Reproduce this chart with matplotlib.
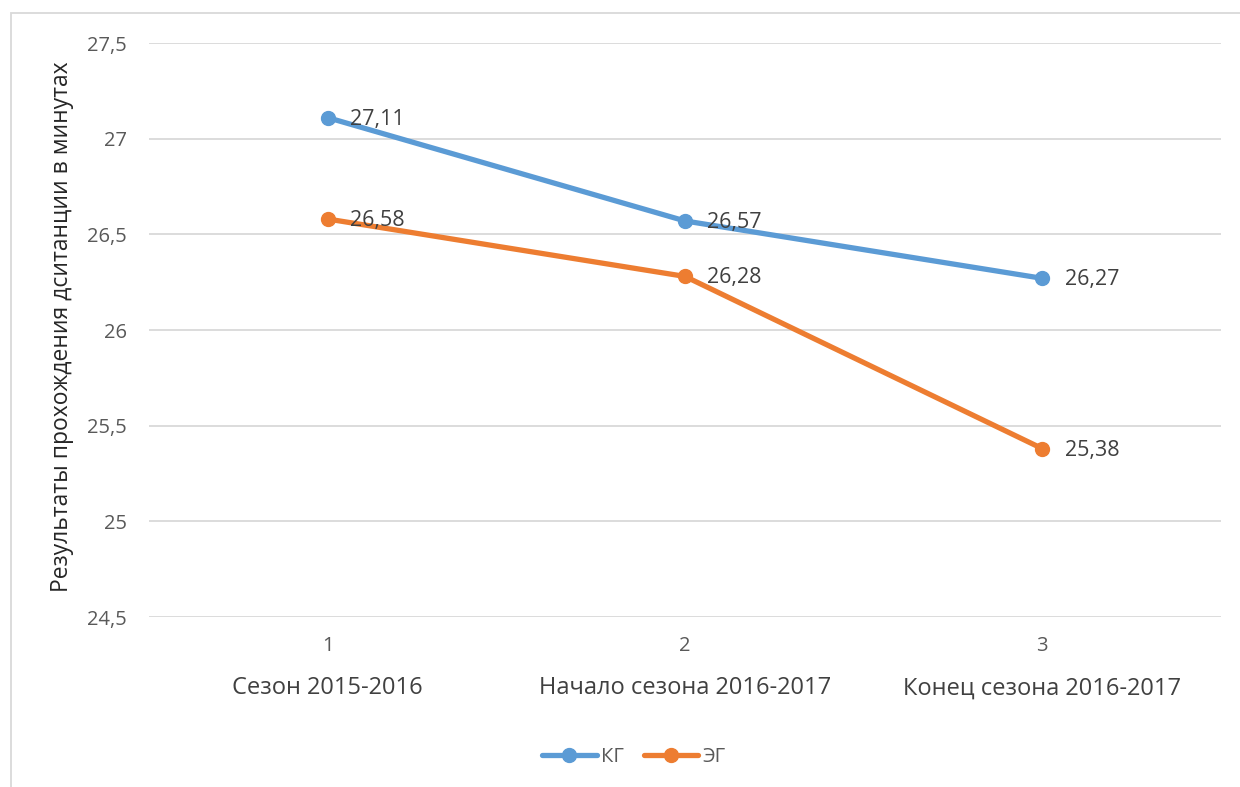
import matplotlib
matplotlib.use('Agg')
import matplotlib.pyplot as plt
from matplotlib.patches import Rectangle

# данные
x_vals = [1, 2, 3]
categories = ['Сезон 2015-2016', 'Начало сезона 2016-2017', 'Конец сезона 2016-2017']
kg = [27.11, 26.57, 26.27]
eg = [26.58, 26.28, 25.38]
y_ticks = [24.5, 25, 25.5, 26, 26.5, 27, 27.5]

blue = '#5B9BD5'
orange = '#ED7D31'
text_col = '#595959'

plt.rcParams['font.family'] = ['Open Sans', 'DejaVu Sans']

fig = plt.figure(figsize=(12.4, 7.87), dpi=100)
ax = fig.add_axes([149 / 1240, 1 - 617 / 787, (1221 - 149) / 1240, (617 - 43) / 787])

# рамка диаграммы
fig.patches.append(Rectangle((11 / 1240, -0.05), 1.1, 1 - 13 / 787 + 0.05,
                             transform=fig.transFigure, fill=False,
                             edgecolor='#D9D9D9', linewidth=1.3))

ax.plot(x_vals, kg, color=blue, lw=3.8, marker='o', ms=10, label='КГ',
        solid_capstyle='round', zorder=3)
ax.plot(x_vals, eg, color=orange, lw=3.8, marker='o', ms=10, label='ЭГ',
        solid_capstyle='round', zorder=3)

for xs, ys in [(x_vals, kg), (x_vals, eg)]:
    for x, y in zip(xs, ys):
        ax.annotate(f'{y:.2f}'.replace('.', ','), (x, y), xytext=(16, -1),
                    textcoords='offset points', va='center', ha='left',
                    fontsize=15.5, color='#404040', zorder=4)

ax.set_xlim(0.5, 3.5)
ax.set_ylim(24.5, 27.5)
ax.set_yticks(y_ticks)
ax.set_yticklabels([f'{t:g}'.replace('.', ',') for t in y_ticks])
ax.set_xticks(x_vals)
ax.set_xticklabels([str(x) for x in x_vals])
ax.tick_params(axis='both', length=0, labelsize=14.5, labelcolor=text_col)
ax.tick_params(axis='y', pad=16)
ax.tick_params(axis='x', pad=14)
ax.grid(axis='y', color='#D9D9D9', lw=1.3)
ax.set_axisbelow(True)
for s in ax.spines.values():
    s.set_visible(False)

for x, c in zip(x_vals, categories):
    ax.text(x, -0.124, c, transform=ax.get_xaxis_transform(), ha='center',
            va='center', fontsize=17, color='#404040')

fig.text(62 / 1240, 1 - 327 / 787, 'Результаты прохождения дситанции в минутах',
         rotation=90, ha='center', va='center', fontsize=16.5, color='#262626')

fig.legend(loc='center', bbox_to_anchor=(0.511, 0.038), ncol=2, frameon=False,
           fontsize=14.5, handlelength=2.7, columnspacing=1.0, handletextpad=0.2,
           labelcolor=text_col)

fig.savefig('out.png', dpi=100)
